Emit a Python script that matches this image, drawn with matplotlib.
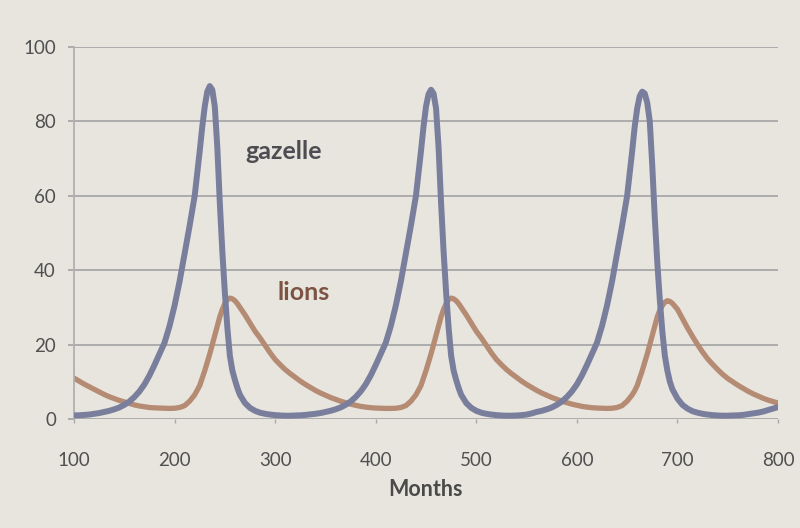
import matplotlib
matplotlib.use("Agg")
import matplotlib.pyplot as plt
import numpy as np

# month grid: 5-month steps, 2.5-month steps around the three peaks
months = (list(np.arange(100, 225, 5)) + list(np.arange(225, 267.5, 2.5)) +
          list(np.arange(270, 445, 5)) + list(np.arange(445, 487.5, 2.5)) +
          list(np.arange(490, 655, 5)) + list(np.arange(655, 697.5, 2.5)) +
          list(np.arange(700, 805, 5)))

gazelle = [
    # 100-220
    1.0, 1.0, 1.1, 1.2, 1.4, 1.6, 1.9, 2.2, 2.6, 3.1, 3.8, 4.7, 5.9,
    7.4, 9.3, 11.7, 14.5, 17.5, 20.5, 25, 30.5, 37, 44.5, 52, 60,
    # 225-265
    72, 78.5, 84, 88, 89.5, 88.5, 84, 73, 58, 45, 34, 24.5, 17, 13, 10.5, 8.3, 6.5,
    # 270-440
    4.3, 3.0, 2.2, 1.7, 1.4, 1.2, 1.05, 0.95, 0.9, 0.9, 0.95, 1.0, 1.1, 1.25,
    1.4, 1.6, 1.9, 2.2, 2.6, 3.1, 3.8, 4.7, 5.9, 7.4, 9.3, 11.7, 14.5, 17.5,
    20.5, 25, 30.5, 37, 44.5, 52, 60,
    # 445-485
    72, 78.5, 84, 87.3, 88.5, 87.5, 83.5, 73, 58, 45, 34, 24.5, 17, 13, 10.5, 8.3, 6.5,
    # 490-650
    4.3, 3.0, 2.2, 1.7, 1.4, 1.2, 1.05, 0.95, 0.9, 0.9, 0.95, 1.05, 1.2, 1.5,
    1.9, 2.2, 2.6, 3.1, 3.8, 4.7, 5.9, 7.4, 9.3, 11.7, 14.5, 17.5, 20.5, 25,
    30.5, 37, 44.5, 52, 60,
    # 655-695
    72, 78.5, 83.5, 86.8, 88, 87.5, 85, 80, 68, 54, 42, 32, 23.5, 17, 13, 10, 8,
    # 700-800
    5.5, 3.8, 2.8, 2.1, 1.7, 1.4, 1.2, 1.05, 0.95, 0.9, 0.9, 0.95, 1.0, 1.1,
    1.3, 1.5, 1.7, 2.0, 2.4, 2.8, 3.2,
]

lions = [
    # 100-220
    11.0, 10.2, 9.4, 8.7, 8.0, 7.3, 6.6, 6.0, 5.5, 5.0, 4.6, 4.2, 3.8,
    3.5, 3.3, 3.1, 3.0, 2.95, 2.9, 2.85, 2.9, 3.1, 3.6, 4.8, 6.5,
    # 225-265
    9.0, 11, 13, 15.2, 17.5, 20, 22.5, 25, 27.5, 29.5, 31, 32.1, 32.5, 32.3, 31.8, 31, 30,
    # 270-440
    28, 25.8, 23.6, 21.8, 19.8, 17.8, 16, 14.6, 13.3, 12.2, 11.2, 10.2, 9.3, 8.5,
    7.7, 7.0, 6.4, 5.8, 5.3, 4.8, 4.4, 4.0, 3.7, 3.4, 3.2, 3.05, 2.95, 2.9,
    2.85, 2.85, 2.9, 3.1, 3.6, 4.8, 6.5,
    # 445-485
    9.0, 11, 13, 15.2, 17.5, 20, 22.5, 25, 27.5, 29.5, 31, 32.1, 32.5, 32.3, 31.8, 31, 30,
    # 490-650
    28, 25.8, 23.6, 21.8, 19.8, 17.8, 16, 14.6, 13.3, 12.2, 11.2, 10.2, 9.3, 8.5,
    7.7, 7.0, 6.4, 5.8, 5.3, 4.8, 4.4, 4.0, 3.7, 3.4, 3.2, 3.05, 2.95, 2.9,
    2.85, 2.9, 3.1, 3.6, 4.8,
    # 655-695
    6.5, 7.6, 9.0, 11, 13, 15.2, 17.5, 20, 22.5, 25, 27.5, 29.3, 30.5, 31.4, 31.8, 31.6, 31.1,
    # 700-800
    29.5, 27, 24.5, 22.2, 20, 18, 16.2, 14.7, 13.3, 12, 10.9, 10, 9.1, 8.3,
    7.5, 6.8, 6.2, 5.6, 5.1, 4.7, 4.3,
]

x_ticks = [100, 200, 300, 400, 500, 600, 700, 800]
y_ticks = [0, 20, 40, 60, 80, 100]

bg = "#e7e5de"
grid_col = "#a8a8a8"
txt_col = "#505050"

plt.rcParams['font.family'] = ['Lato', 'DejaVu Sans']

fig = plt.figure(figsize=(8, 5.28), dpi=100, facecolor=bg)
ax = fig.add_axes([0.0925, 0.2064, 0.88, 0.7046], facecolor=bg)

ax.plot(months, gazelle, color="#7a7e9d", lw=4.3, solid_capstyle="round",
        solid_joinstyle="round", zorder=3)
ax.plot(months, lions, color="#b58b73", lw=3.8, solid_capstyle="round",
        solid_joinstyle="round", zorder=2)

ax.set_xlim(100, 800)
ax.set_ylim(0, 100)
ax.set_xticks(x_ticks)
ax.set_yticks(y_ticks)
ax.yaxis.grid(True, color=grid_col, lw=1.3)
ax.set_axisbelow(True)

for s in ["top", "right", "bottom"]:
    ax.spines[s].set_visible(False)
ax.spines["left"].set_color("#b0b0b0")
ax.spines["left"].set_linewidth(1.3)

ax.tick_params(axis="y", length=4, width=1.3, color=grid_col, pad=9,
               labelsize=13.5, labelcolor=txt_col)
ax.tick_params(axis="x", length=3, width=1.0, color=grid_col, pad=21,
               labelsize=13.5, labelcolor=txt_col)

# series labels sit inside the plot
ax.text(308, 72, "gazelle", fontsize=18, fontweight="bold",
        color="#4e4e52", ha="center", va="center")
ax.text(328, 34, "lions", fontsize=18, fontweight="bold", color="#7d5444",
        ha="center", va="center")

fig.text(426 / 800, 1 - 489 / 528, "Months", fontsize=15.5, fontweight="bold",
         color="#4a4a4a", ha="center", va="center")

fig.savefig("out.png", dpi=100, facecolor=bg)
